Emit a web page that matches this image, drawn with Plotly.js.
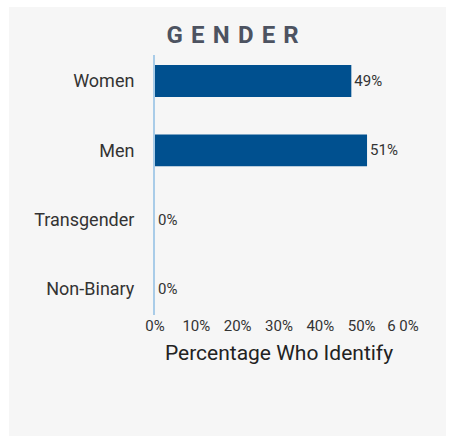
<!DOCTYPE html>
<html>
<head>
<meta charset="utf-8">
<script src="https://cdn.plot.ly/plotly-3.0.1.min.js"></script>
<style>
  html, body { margin: 0; padding: 0; background: #ffffff; }
  #panel { position: absolute; left: 9px; top: 7px; width: 437px; height: 429px; background: #f6f6f6; }
  #chart { position: absolute; left: 0; top: 0; width: 450px; height: 436px; }
</style>
</head>
<body>
<div id="panel"></div>
<div id="chart"></div>
<script>
const categories = ["Women", "Men", "Transgender", "Non-Binary"];
const percentages = [47.5, 51.3, 0, 0];
const valueLabels = ["49%", "51%", "0%", "0%"];
const tickValues = [0, 10, 20, 30, 40, 50, 60];
const tickLabels = ["0%", "10%", "20%", "30%", "40%", "50%", "6 0%"];

const trace = {
  type: "bar",
  orientation: "h",
  y: categories,
  x: percentages,
  text: valueLabels,
  textposition: "outside",
  cliponaxis: false,
  textfont: { family: "Roboto, sans-serif", size: 15, color: "#333333" },
  marker: { color: "#00508f" },
  hoverinfo: "none"
};

const layout = {
  width: 450,
  height: 436,
  paper_bgcolor: "rgba(0,0,0,0)",
  plot_bgcolor: "rgba(0,0,0,0)",
  margin: { l: 155, r: 47, t: 55, b: 121 },
  bargap: 0.54,
  showlegend: false,
  title: {
    text: "G\u2004E\u2004N\u2004D\u2004E\u2004R",
    font: { family: "Roboto, sans-serif", size: 24, color: "#4d5361", weight: 700 },
    x: 0.517,
    xanchor: "center",
    y: 0.92,
    yanchor: "middle"
  },
  xaxis: {
    range: [0, 60],
    tickmode: "array",
    tickvals: tickValues,
    ticktext: tickLabels,
    showgrid: false,
    zeroline: false,
    showline: false,
    ticks: "",
    tickfont: { family: "Roboto, sans-serif", size: 15, color: "#333333" },
    title: {
      text: "Percentage Who Identify",
      font: { family: "Roboto, sans-serif", size: 21, color: "#222222" },
      standoff: 11
    },
    fixedrange: true
  },
  yaxis: {
    type: "category",
    categoryorder: "array",
    categoryarray: categories,
    range: [3.375, -0.375],
    showgrid: false,
    zeroline: false,
    showline: true,
    linecolor: "#a9cce8",
    linewidth: 2,
    ticks: "",
    ticklabelstandoff: 15,
    tickfont: { family: "Roboto, sans-serif", size: 18, color: "#333333" },
    fixedrange: true
  }
};

Plotly.newPlot("chart", [trace], layout, { displayModeBar: false, staticPlot: true });
</script>
</body>
</html>
